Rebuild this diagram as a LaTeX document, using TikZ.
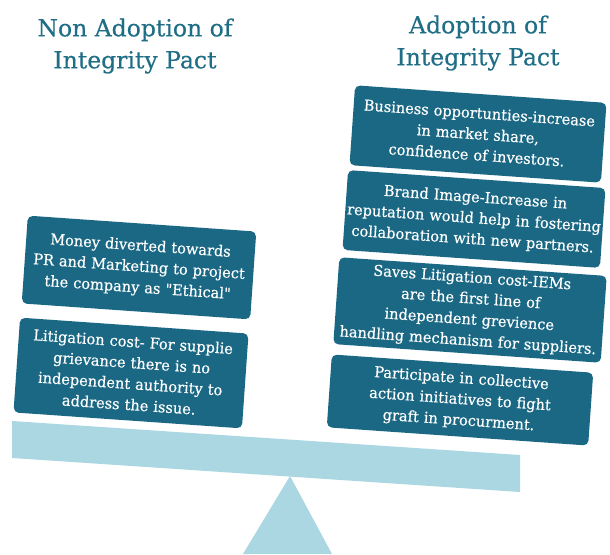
\documentclass[tikz,border=0pt]{standalone}
\usepackage{fontspec}
\setmainfont{DejaVu Serif}
\newfontfamily\boxfont[FakeBold=0.4,FakeStretch=0.97]{DejaVu Serif}
\newfontfamily\titlefont[FakeBold=0.5]{DejaVu Serif}
\definecolor{boxteal}{HTML}{1A6884}
\definecolor{titleteal}{HTML}{1F6E86}
\definecolor{plankblue}{HTML}{ABD7E3}
\tikzset{
  itembox/.style={fill=boxteal, rounded corners=5pt, text=white, align=center,
    font=\boxfont\fontsize{15}{21}\selectfont, inner sep=1pt, rotate=-4},
  titletext/.style={text=titleteal, align=center, font=\titlefont\fontsize{23.5}{32}\selectfont},
  plank/.style={fill=plankblue}
}
\begin{document}
\begin{tikzpicture}[x=1pt,y=-1pt]
\useasboundingbox (0,0) rectangle (610,554);
% fulcrum and plank
\fill[plank] (290,476) -- (332,554) -- (243,554) -- cycle;
\fill[plank] (12,421) -- (520,455) -- (520,492) -- (12,458) -- cycle;
% titles
\node[titletext] (tl) at (135,46) {Non Adoption of\\Integrity Pact};
\node[titletext] (tr) at (478,43) {Adoption of\\Integrity Pact};
% left boxes
\node[itembox, minimum width=229pt, minimum height=88pt, text width=227pt] (l1) at (139,267.5)
  {Money diverted towards\\PR and Marketing to project\\the company as "Ethical"};
\node[itembox, minimum width=229pt, minimum height=95pt, text width=227pt] (l2) at (131,373)
  {Litigation cost- For supplie\\grievance there is no\\independent authority to\\address the issue.};
% right boxes
\node[itembox, minimum width=252pt, minimum height=80pt, text width=250pt] (r1) at (478,134)
  {Business opportunties-increase\\in market share,\\confidence of investors.};
\node[itembox, minimum width=258pt, minimum height=80pt, text width=256pt] (r2) at (474,219)
  {Brand Image-Increase in\\reputation would help in fostering\\collaboration with new partners.};
\node[itembox, minimum width=268pt, minimum height=87pt, text width=266pt] (r3) at (470,310)
  {Saves Litigation cost-IEMs\\are the first line of\\independent grevience\\handling mechanism for suppliers.};
\node[itembox, minimum width=262pt, minimum height=73pt, text width=260pt] (r4) at (460,400)
  {Participate in collective\\action initiatives to fight\\graft in procurment.};
\end{tikzpicture}
\end{document}
